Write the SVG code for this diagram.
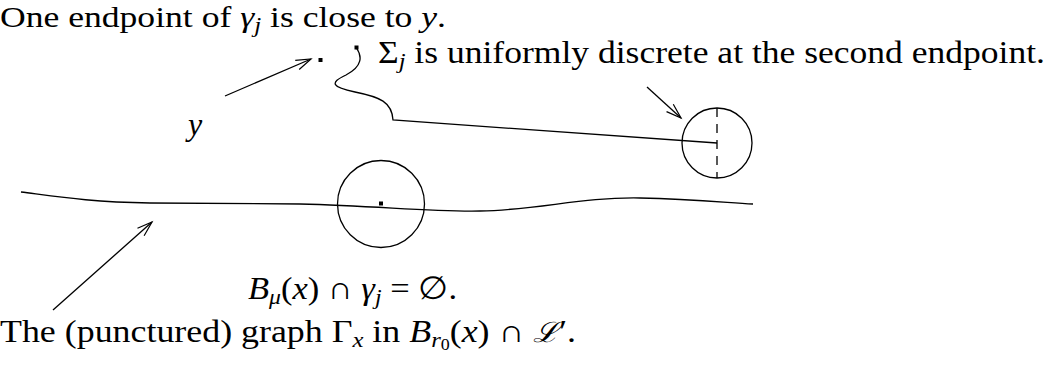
<svg xmlns="http://www.w3.org/2000/svg" width="1051" height="373" viewBox="0 0 1051 373">
<style>
  .t { font-family: "Liberation Serif", "DejaVu Serif", serif; font-size: 32px; fill: #000; }
  .top { font-size: 30px; }
  .i { font-style: italic; }
  .s { font-size: 22px; }
  .ss { font-size: 16px; }
  .ln { fill: none; stroke: #000; stroke-width: 1.3; }
  .dot { fill: #000; }
</style>
<defs>
  <marker id="arr" markerUnits="userSpaceOnUse" markerWidth="20" markerHeight="14" refX="0" refY="0" viewBox="-16 -7 18 14" orient="auto" overflow="visible">
    <path d="M -15 -5 L 0 0 L -15 5" fill="none" stroke="#000" stroke-width="1.2"/>
  </marker>
</defs>
<rect width="1051" height="373" fill="#fff"/>

<g id="connectors">
  <line class="ln" x1="225" y1="96" x2="311" y2="59" marker-end="url(#arr)"/>
  <line class="ln" x1="647" y1="87" x2="681" y2="118" marker-end="url(#arr)"/>
  <line class="ln" x1="53" y1="310" x2="152" y2="222" marker-end="url(#arr)"/>
</g>

<g id="graph-gamma-x">
  <path class="ln" d="M 21 192 C 60 197, 90 202, 150 203 L 300 204 C 380 206, 430 212, 480 211 C 540 210, 580 197, 640 198 C 690 199, 720 202, 753 204"/>
</g>

<g id="ball-mu">
  <circle class="ln" cx="381" cy="204" r="43.5"/>
  <rect class="dot" x="379" y="201.5" width="4" height="4"/>
</g>

<g id="curve-gamma-j">
  <path class="ln" d="M 356.5 48 C 362 56, 363 66, 346 75 C 329 83, 332 87, 355 92 C 380 97, 392 102, 393 120 L 717 143"/>
  <rect class="dot" x="354.5" y="45.5" width="4" height="4"/>
  <rect class="dot" x="318.5" y="58" width="4" height="4"/>
</g>

<g id="ball-endpoint">
  <circle class="ln" cx="717" cy="143" r="35"/>
  <line class="ln" x1="717" y1="108" x2="717" y2="178" stroke-dasharray="9,7"/>
</g>

<g id="labels">
  <text class="t top" x="0" y="27" textLength="446" lengthAdjust="spacingAndGlyphs">One endpoint of <tspan class="i">γ</tspan><tspan class="i" style="font-size:21px" dy="5">j</tspan><tspan dy="-5"> is close to </tspan><tspan class="i">y</tspan>.</text>
  <text class="t" x="378" y="63" textLength="667" lengthAdjust="spacingAndGlyphs">Σ<tspan class="i s" dy="5">j</tspan><tspan dy="-5"> is uniformly discrete at the second endpoint.</tspan></text>
  <text class="t i" x="188" y="135">y</text>
  <text class="t" x="248" y="299" textLength="209" lengthAdjust="spacingAndGlyphs"><tspan class="i">B</tspan><tspan class="i s" dy="5">μ</tspan><tspan dy="-5">(</tspan><tspan class="i">x</tspan>) ∩ <tspan class="i">γ</tspan><tspan class="i s" dy="5">j</tspan><tspan dy="-5"> = ∅.</tspan></text>
  <text class="t" x="0" y="342" textLength="576" lengthAdjust="spacingAndGlyphs">The (punctured) graph Γ<tspan class="i s" dy="5">x</tspan><tspan dy="-5"> in </tspan><tspan class="i">B</tspan><tspan class="i s" dy="5">r</tspan><tspan class="ss" dy="3">0</tspan><tspan dy="-8">(</tspan><tspan class="i">x</tspan>) ∩ <tspan style="font-family:'DejaVu Serif',serif;font-style:italic;font-size:28px">ℒ</tspan>′.</text>
</g>
</svg>
